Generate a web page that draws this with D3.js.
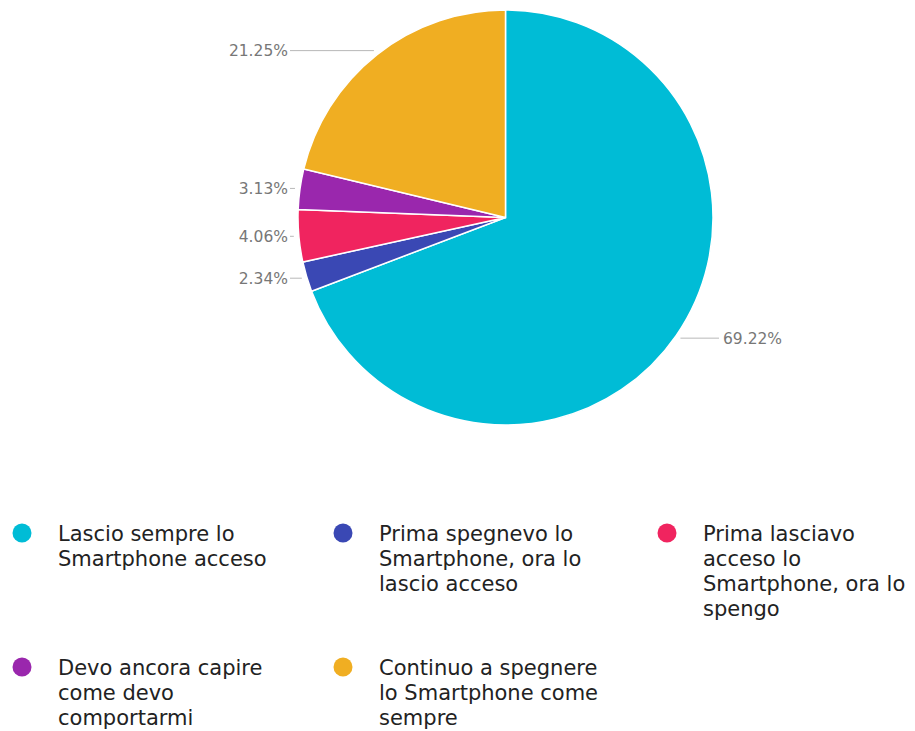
<!DOCTYPE html>
<html>
<head>
<meta charset="utf-8">
<script src="https://cdn.jsdelivr.net/npm/d3@7/dist/d3.min.js"></script>
<style>
  html, body { margin: 0; padding: 0; background: #fff; }
  svg { display: block; font-family: "DejaVu Sans", sans-serif; }
</style>
</head>
<body>
<svg id="chart" width="915" height="731"></svg>
<script>
// Survey answers and their shares (%)
const categories = [
  "Lascio sempre lo Smartphone acceso",
  "Prima spegnevo lo Smartphone, ora lo lascio acceso",
  "Prima lasciavo acceso lo Smartphone, ora lo spengo",
  "Devo ancora capire come devo comportarmi",
  "Continuo a spegnere lo Smartphone come sempre"
];
const values = [69.22, 2.34, 4.06, 3.13, 21.25];
const colors = ["#00bcd6", "#3a48b4", "#f0245f", "#9a27ad", "#f0ae22"];

const svg = d3.select("#chart");
const cx = 505.5, cy = 217.5, radius = 207.5;

const data = categories.map((c, i) => ({ name: c, value: values[i], color: colors[i] }));

const pie = d3.pie().value(d => d.value).sort(null);
const arcs = pie(data);
const arc = d3.arc().innerRadius(0).outerRadius(radius);
const labelArc = d3.arc().innerRadius(radius + 5).outerRadius(radius + 5);

const g = svg.append("g").attr("transform", `translate(${cx},${cy})`);

g.selectAll("path.slice")
  .data(arcs)
  .join("path")
  .attr("class", "slice")
  .attr("d", arc)
  .attr("fill", d => d.data.color)
  .attr("stroke", "#fff")
  .attr("stroke-width", 1.5);

// Percentage labels: a horizontal leader from the slice to a column of text
const fmt = d => d.toFixed(2) + "%";
const leftTextX = 288 - cx, rightTextX = 723 - cx;

arcs.forEach(a => {
  const [px, py] = labelArc.centroid(a);
  const mid = (a.startAngle + a.endAngle) / 2;
  const left = mid > Math.PI;
  const tx = left ? leftTextX : rightTextX;
  g.append("line")
    .attr("x1", px).attr("y1", py)
    .attr("x2", left ? tx + 2 : tx - 4).attr("y2", py)
    .attr("stroke", "#b8b8b8")
    .attr("stroke-width", 1);
  g.append("text")
    .attr("x", tx).attr("y", py)
    .attr("dy", "0.35em")
    .attr("text-anchor", left ? "end" : "start")
    .attr("fill", "#777")
    .attr("font-size", "15.5px")
    .text(fmt(a.data.value));
});

// Legend: three columns, wrapped item text
const legendCols = [22, 343, 667];
const legendRows = [533, 667];
const textOffset = 36, lineH = 25, maxW = 226;

const legend = svg.append("g");
data.forEach((d, i) => {
  const bx = legendCols[i % 3], by = legendRows[Math.floor(i / 3)];
  legend.append("circle")
    .attr("cx", bx).attr("cy", by).attr("r", 9.5)
    .attr("fill", d.color);
  const t = legend.append("text")
    .attr("font-size", "21px")
    .attr("fill", "#222");
  const words = d.name.split(" ");
  let line = [], row = 0;
  let tspan = t.append("tspan").attr("x", bx + textOffset).attr("y", by).attr("dy", "0.36em");
  words.forEach(w => {
    line.push(w);
    tspan.text(line.join(" "));
    if (tspan.node().getComputedTextLength() > maxW && line.length > 1) {
      line.pop();
      tspan.text(line.join(" "));
      line = [w];
      row++;
      tspan = t.append("tspan").attr("x", bx + textOffset).attr("y", by + row * lineH).attr("dy", "0.36em").text(w);
    }
  });
});
</script>
</body>
</html>
